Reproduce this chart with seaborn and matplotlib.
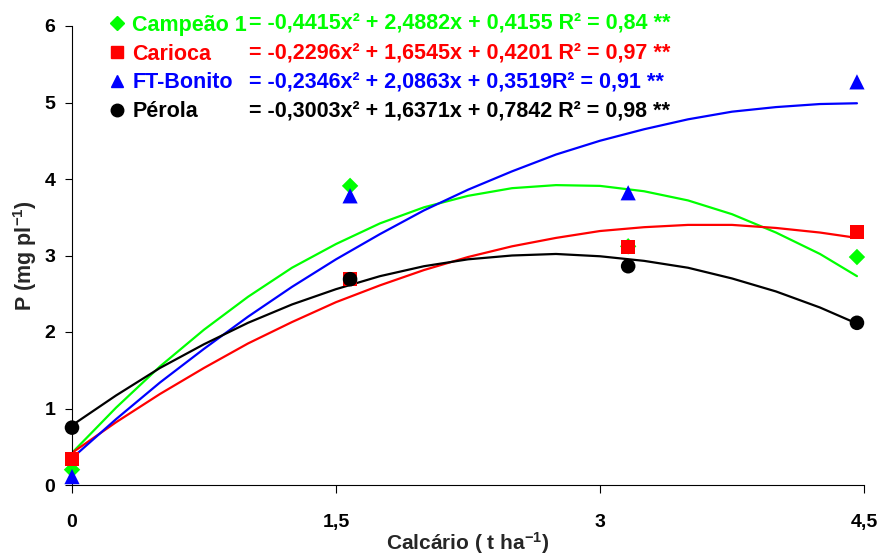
import numpy as np
import pandas as pd
import seaborn as sns
import matplotlib.pyplot as plt
from matplotlib.lines import Line2D

cultivars = ['Campeão 1', 'Carioca', 'FT-Bonito', 'Pérola']
colors = ['#00FF00', '#FF0000', '#0000FF', '#000000']
markers = ['D', 's', '^', 'o']
marker_area = [70, 110, 120, 110]
equations = [
    '= -0,4415x² + 2,4882x + 0,4155 R² = 0,84 **',
    '= -0,2296x² + 1,6545x + 0,4201 R² = 0,97 **',
    '= -0,2346x² + 2,0863x + 0,3519R² = 0,91 **',
    '= -0,3003x² + 1,6371x + 0,7842 R² = 0,98 **',
]

# observed means (t ha-1 of lime)
dose = [0, 1.58, 3.16, 4.46]
p_campeao = [0.20, 3.91, 3.12, 2.98]
p_carioca = [0.34, 2.69, 3.11, 3.31]
p_bonito = [0.11, 3.78, 3.82, 5.27]
p_perola = [0.75, 2.69, 2.86, 2.12]

# trend lines
curve_x = [0, 0.25, 0.5, 0.75, 1.0, 1.25, 1.5, 1.75, 2.0, 2.25, 2.5,
           2.75, 3.0, 3.25, 3.5, 3.75, 4.0, 4.25, 4.46]
curve_campeao = [0.42, 1.01, 1.55, 2.03, 2.46, 2.84, 3.15, 3.42, 3.63, 3.78,
                 3.88, 3.92, 3.91, 3.84, 3.72, 3.54, 3.30, 3.02, 2.73]
curve_carioca = [0.42, 0.82, 1.19, 1.53, 1.85, 2.13, 2.39, 2.61, 2.81, 2.98,
                 3.12, 3.23, 3.32, 3.37, 3.40, 3.40, 3.36, 3.30, 3.23]
curve_bonito = [0.35, 0.86, 1.34, 1.78, 2.20, 2.59, 2.95, 3.28, 3.59, 3.86,
                4.10, 4.32, 4.50, 4.65, 4.78, 4.88, 4.94, 4.98, 4.99]
curve_perola = [0.78, 1.17, 1.53, 1.84, 2.12, 2.36, 2.56, 2.73, 2.86, 2.95,
                3.00, 3.02, 2.99, 2.93, 2.84, 2.70, 2.53, 2.32, 2.11]

x_ticks = [0, 1.5, 3, 4.5]
x_ticklabels = ['0', '1,5', '3', '4,5']
y_ticks = [0, 1, 2, 3, 4, 5, 6]

points = pd.concat([
    pd.DataFrame({'dose': dose, 'P': vals, 'cultivar': c})
    for c, vals in zip(cultivars, [p_campeao, p_carioca, p_bonito, p_perola])
], ignore_index=True)
curves = pd.concat([
    pd.DataFrame({'dose': curve_x, 'P': vals, 'cultivar': c})
    for c, vals in zip(cultivars, [curve_campeao, curve_carioca, curve_bonito, curve_perola])
], ignore_index=True)

sns.set_theme(style='white')
plt.rcParams['font.family'] = ['Liberation Sans', 'DejaVu Sans']
plt.rcParams['font.weight'] = 'bold'
plt.rcParams['mathtext.fontset'] = 'custom'
plt.rcParams['mathtext.rm'] = 'Liberation Sans:bold'
plt.rcParams['mathtext.it'] = 'Liberation Sans:bold'
plt.rcParams['mathtext.bf'] = 'Liberation Sans:bold'
plt.rcParams['mathtext.default'] = 'rm'

palette = dict(zip(cultivars, colors))

fig = plt.figure(figsize=(8.79, 5.55), dpi=100)
ax = fig.add_axes([72 / 879, 1 - 485 / 555, (864 - 72) / 879, (485 - 26) / 555])

sns.lineplot(data=curves, x='dose', y='P', hue='cultivar', palette=palette,
             estimator=None, sort=False, lw=1.6, legend=False, ax=ax, zorder=2)
sns.scatterplot(data=points, x='dose', y='P', hue='cultivar', style='cultivar',
                size='cultivar', sizes=dict(zip(cultivars, marker_area)),
                palette=palette, markers=dict(zip(cultivars, markers)),
                edgecolor='none', legend=False, ax=ax, zorder=3, clip_on=False)

ax.set_xlim(0, 4.5)
ax.set_ylim(0, 6)
ax.set_xticks(x_ticks)
ax.set_xticklabels(x_ticklabels)
ax.set_yticks(y_ticks)
ax.set_yticklabels([str(v) for v in y_ticks])
sns.despine(ax=ax)
for side in ['left', 'bottom']:
    ax.spines[side].set_color('black')
    ax.spines[side].set_linewidth(0.8)
ax.tick_params(axis='x', direction='out', length=6, width=0.8, pad=15,
               labelsize=14, bottom=True, colors='black')
ax.tick_params(axis='y', direction='out', length=5, width=0.8, pad=7,
               labelsize=14, left=True, colors='black')
ax.set_xlabel('Calcário ( t ha$^{-1}$)', fontsize=15, fontweight='bold', labelpad=-1)
ax.set_ylabel('P (mg pl$^{-1}$)', fontsize=15.5, fontweight='bold', labelpad=4)
ax.grid(False)

handles = [Line2D([], [], marker=m, color=c, linestyle='none', markersize=ms)
           for m, c, ms in zip(markers, colors, [7, 8.5, 9, 9])]
leg = fig.legend(handles, cultivars, loc='upper left', bbox_to_anchor=(109 / 879, 1 - 15 / 555),
                 frameon=False, fontsize=15.5, handlelength=0.75, handletextpad=0.33,
                 labelspacing=0.36, borderpad=0, borderaxespad=0)
for t, c in zip(leg.get_texts(), colors):
    t.set_color(c)
    t.set_fontweight('bold')

for i, (eq, c) in enumerate(zip(equations, colors)):
    fig.text(249 / 879, 1 - (23.5 + 29.2 * i) / 555, eq, color=c, fontsize=15.5,
             fontweight='bold', ha='left', va='center')

plt.savefig('out.png', dpi=100)
